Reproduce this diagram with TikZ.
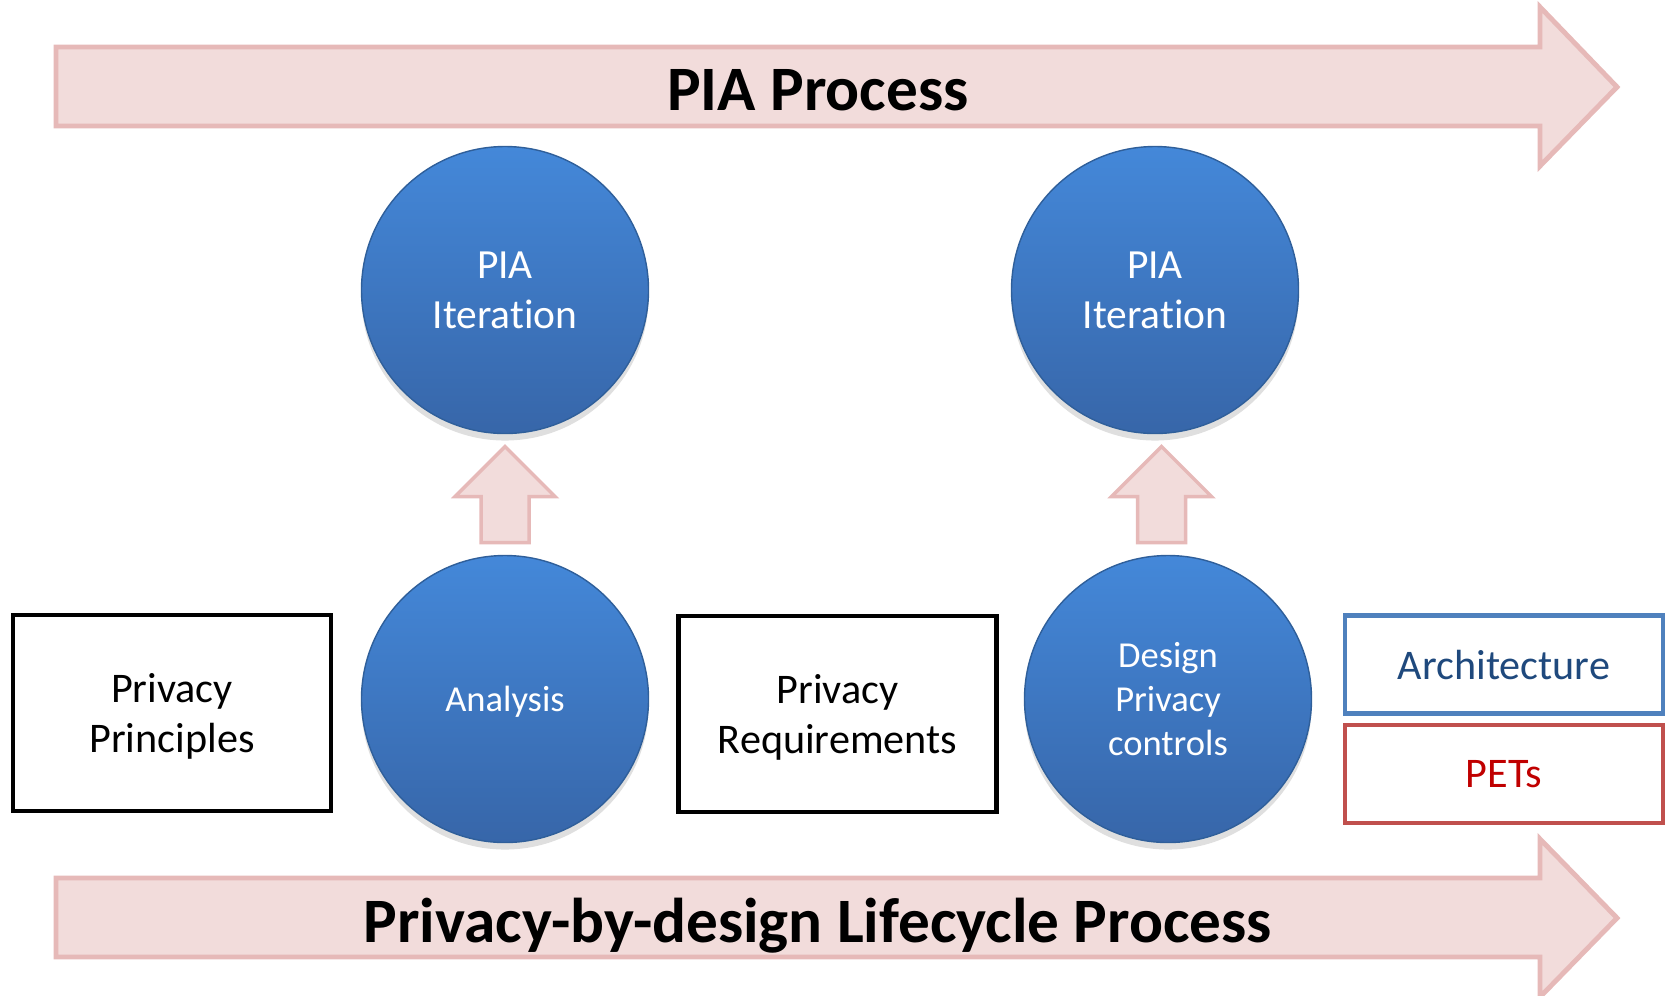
\documentclass[tikz,border=0pt]{standalone}
\usepackage{fontspec}
\setmainfont{Carlito}[Ligatures=NoCommon]
\usetikzlibrary{calc,shadows}

\definecolor{arrfill}{HTML}{F2DCDB}
\definecolor{arrline}{HTML}{E6B9B8}
\definecolor{balltop}{HTML}{4488D9}
\definecolor{ballbot}{HTML}{3766A9}
\definecolor{ballline}{HTML}{2F5F9A}
\definecolor{archline}{HTML}{4F81BD}
\definecolor{archtext}{HTML}{1F497D}
\definecolor{petline}{HTML}{C0504D}
\definecolor{pettext}{HTML}{C00000}

\tikzset{
  procarrow/.style={fill=arrfill, draw=arrline, line width=1.4pt, line join=miter},
  proctext/.style={font=\fontsize{18}{22}\selectfont\bfseries, anchor=base},
  uparrow/.style={fill=arrfill, draw=arrline, line width=1pt, line join=miter},
  ball/.style={circle, minimum size=2.87cm, inner sep=0pt, top color=balltop, bottom color=ballbot,
    draw=ballline, line width=0.4pt, text=white, align=center,
    drop shadow={opacity=0.25, shadow xshift=0pt, shadow yshift=-2pt}},
  bigball/.style={ball, font=\fontsize{11.8}{14.3}\selectfont, text depth=0pt},
  smallball/.style={ball, font=\fontsize{10.4}{12.6}\selectfont, text depth=0pt},
  item/.style={draw, line width=1.2pt, minimum width=3.18cm, minimum height=1.96cm,
    align=center, font=\fontsize{12}{14.2}\selectfont, text depth=0pt},
  tech/.style={draw, line width=1.2pt, minimum width=3.18cm, minimum height=0.98cm,
    align=center, font=\fontsize{12}{14.2}\selectfont}
}

\begin{document}
\begin{tikzpicture}
\useasboundingbox (0,0) rectangle (16.69,-9.95);

% process arrows
\draw[procarrow] (0.56,-0.47) -- (15.40,-0.47) -- (15.40,-0.07) -- (16.17,-0.87)
  -- (15.40,-1.66) -- (15.40,-1.26) -- (0.56,-1.26) -- cycle;
\node[proctext] (pia) at (8.18,-1.10) {PIA Process};

\draw[procarrow] (0.56,-8.78) -- (15.40,-8.78) -- (15.40,-8.39) -- (16.17,-9.18)
  -- (15.40,-9.97) -- (15.40,-9.57) -- (0.56,-9.57) -- cycle;
\node[proctext] (pbd) at (8.18,-9.42) {Privacy-by-design Lifecycle Process};

% iterations
\node[bigball] (it1) at (5.05,-2.90) {PIA\\Iteration};
\node[bigball] (it2) at (11.55,-2.90) {PIA\\Iteration};

% lifecycle
\node[item] (pp) at (1.72,-7.13) {Privacy\\Principles};
\node[smallball] (an) at (5.05,-6.99) {Analysis};
\node[item] (pr) at (8.375,-7.14) {Privacy\\Requirements};
\node[smallball] (dpc) at (11.68,-6.99) {Design\\Privacy\\controls};
\node[tech, draw=archline, text=archtext] (arch) at (15.04,-6.645) {Architecture};
\node[tech, draw=petline, text=pettext] (pets) at (15.04,-7.74) {PETs};

% feeding arrows
\coordinate (u1) at ($(an.north)!0.5!(it1.south)$);
\coordinate (u2) at ($(dpc.north)!0.5!(it2.south)$);
\foreach \u in {u1,u2}
  \draw[uparrow, shift={(\u)}] (-0.24,-0.48) -- (0.24,-0.48) -- (0.24,-0.02) -- (0.50,-0.02)
    -- (0,0.48) -- (-0.50,-0.02) -- (-0.24,-0.02) -- cycle;
\end{tikzpicture}
\end{document}
